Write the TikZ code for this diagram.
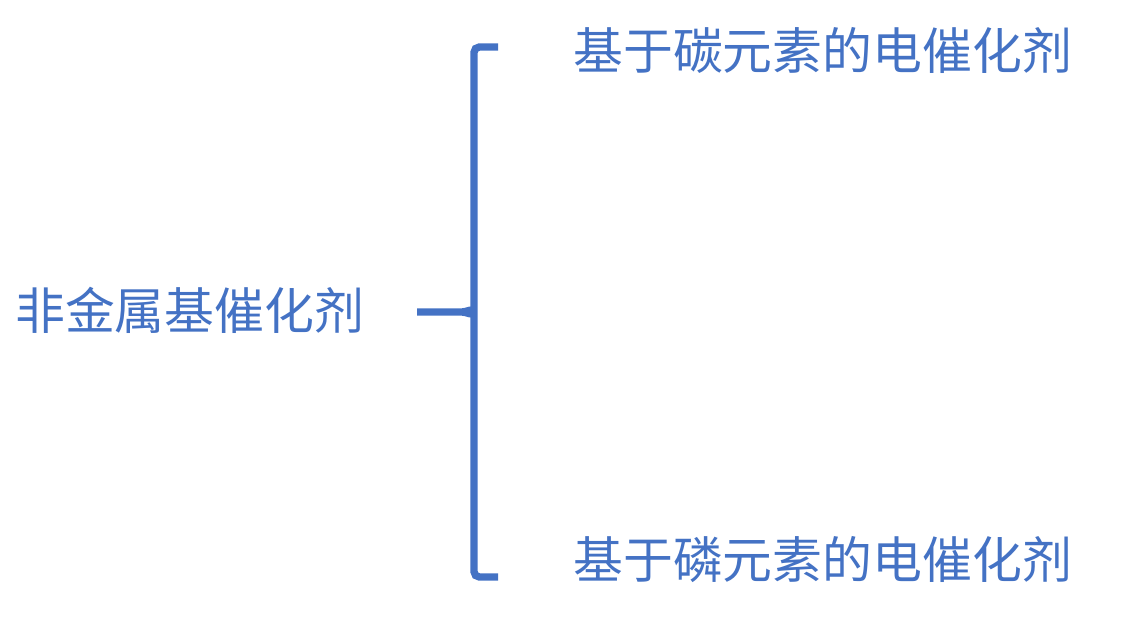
\documentclass[tikz,border=0pt]{standalone}
\usepackage{fontspec}
\setmainfont{Noto Sans CJK SC}
\usetikzlibrary{positioning}
\definecolor{braceblue}{HTML}{4472C4}

\begin{document}
\begin{tikzpicture}[x=0.75pt, y=-0.75pt,
    item/.style={text=braceblue, inner sep=0pt, anchor=west, font=\fontsize{37.4pt}{41pt}\selectfont},
    brace/.style={draw=braceblue, line width=5.5pt, rounded corners=4pt}]
    \useasboundingbox (0,0) rectangle (1131,638);
    \node[item] (root) at (15,310) {非金属基催化剂};
    \node[item] (carbon) at (573,50) {基于碳元素的电催化剂};
    \node[item] (phos) at (573,560) {基于磷元素的电催化剂};
    \coordinate (tip) at (417,312);
    \coordinate (mid) at (474,312);
    \coordinate (top) at (498,47);
    \coordinate (bot) at (498,577);
        \draw[brace] (top) -- (474,47) -- (mid) -- (474,577) -- (bot);
        \draw[brace, rounded corners=0pt] (tip) -- (462,312) to[out=0, in=-90] (mid)
            (462,312) to[out=0, in=90] (mid);
\end{tikzpicture}
\end{document}
